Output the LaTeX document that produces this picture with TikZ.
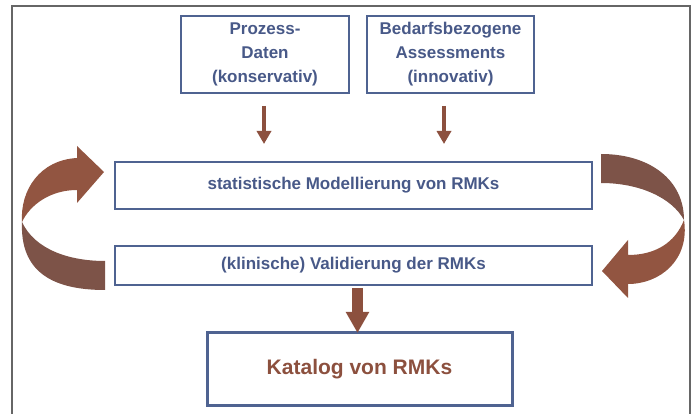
\documentclass[tikz,border=0pt]{standalone}
\usepackage{fontspec}
\setmainfont{Liberation Sans}
\usetikzlibrary{arrows.meta}

\definecolor{boxblue}{RGB}{79,99,145}
\definecolor{textblue}{RGB}{72,89,136}
\definecolor{rust}{RGB}{140,80,62}
\definecolor{rustlight}{RGB}{146,85,65}
\definecolor{rustdark}{RGB}{125,83,72}

\tikzset{
    box/.style = {draw=boxblue, line width=2pt, fill=white, inner sep=0pt, outer sep=0pt,
                  align=center, text=textblue, font=\bfseries\fontsize{17}{24}\selectfont},
    down/.style = {draw=rust, line width=4pt, -{Triangle[width=14pt,length=13pt]}}
}

\begin{document}
\begin{tikzpicture}[x=1pt, y=-1pt]
    \useasboundingbox (0,0) rectangle (697,414);

    % frame
    \draw[line width=1.3pt, black!60] (12,414) -- (12,6) -- (690,6) -- (690,414);

    % inputs
    \node[box, minimum width=168pt, minimum height=77pt] (daten) at (265,54.5) {Prozess-\\Daten\\(konservativ)};
    \node[box, minimum width=167pt, minimum height=77pt] (assess) at (450.5,54.5) {Bedarfsbezogene\\Assessments\\(innovativ)};

    % cycle
    \node[box, minimum width=477pt, minimum height=47pt] (modell) at (353.5,185.5) {statistische Modellierung von RMKs};
    \node[box, minimum width=477pt, minimum height=39pt] (valid) at (353.5,265.5) {(klinische) Validierung der RMKs};

    % result
    \node[box, line width=3pt, minimum width=305pt, minimum height=73pt, text=rust,
          font=\bfseries\fontsize{21}{24}\selectfont] (katalog) at (359.5,369.5) {Katalog von RMKs};

    % straight arrows
    \draw[down, shorten <=13pt, shorten >=18pt] ([xshift=-1pt]daten.south) -- ([xshift=-1pt]daten.south |- modell.north);
    \draw[down, shorten <=13pt, shorten >=18pt] ([xshift=-6.5pt]assess.south) -- ([xshift=-6.5pt]assess.south |- modell.north);
    \draw[down, line width=11pt, -{Triangle[width=22pt,length=21pt]}, shorten <=3pt]
        ([xshift=-2pt]katalog.north |- valid.south) -- ([xshift=-2pt]katalog.north);

    % left ribbon: back side, then front side with head
    \fill[rustdark] (22,222) .. controls (20,270) and (50,290) .. (105,290)
        -- (105,261) .. controls (70,261) and (35,250) .. (22,222) -- cycle;
    \fill[rustlight] (22,222) .. controls (20,190) and (40,160) .. (77,158)
        -- (77,146) -- (104,172) -- (77,203) -- (77,190)
        .. controls (50,190) and (30,205) .. (22,222) -- cycle;

    % right ribbon
    \fill[rustdark] (601,154) .. controls (650,154) and (684,180) .. (684,220)
        .. controls (672,198) and (640,183) .. (601,183) -- cycle;
    \fill[rustlight] (684,220) .. controls (690,260) and (660,284) .. (628,284)
        -- (628,298) -- (602,271) -- (628,240) -- (628,255)
        .. controls (655,255) and (675,243) .. (684,220) -- cycle;
\end{tikzpicture}
\end{document}
